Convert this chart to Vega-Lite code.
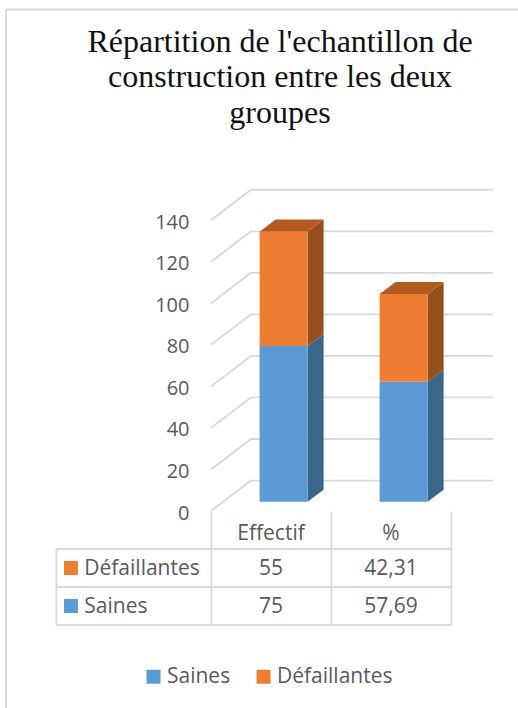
{
  "$schema": "https://vega.github.io/schema/vega-lite/v6.json",
  "autosize": {"type": "none"},
  "padding": {"left": 211, "top": 189, "right": 25, "bottom": 197},
  "width": 282,
  "height": 322,
  "background": "white",
  "title": {
    "text": ["Répartition de l'echantillon de", "construction entre les deux", "groupes"],
    "font": "Liberation Serif",
    "fontSize": 32,
    "fontWeight": "normal",
    "color": "#111111",
    "lineHeight": 35.5,
    "anchor": "middle",
    "frame": "group",
    "dx": -72,
    "offset": -121
  },
  "datasets": {
    "repartition": [
      {"colonne": "Effectif", "serie": "Saines", "valeur": 75},
      {"colonne": "Effectif", "serie": "Défaillantes", "valeur": 55},
      {"colonne": "%", "serie": "Saines", "valeur": 57.69},
      {"colonne": "%", "serie": "Défaillantes", "valeur": 42.31}
    ],
    "graduations": [
      {"valeur": 0}, {"valeur": 20}, {"valeur": 40}, {"valeur": 60},
      {"valeur": 80}, {"valeur": 100}, {"valeur": 120}, {"valeur": 140}
    ],
    "bordures": [{"ligne": "haut"}, {"ligne": "milieu"}, {"ligne": "bas"}]
  },
  "layer": [
    {
      "layer": [
        {
          "mark": {"type": "rule", "color": "#d9d9d9", "strokeWidth": 1.8},
          "data": {"values": [{}]},
          "encoding": {
            "x": {"datum": -1.708, "type": "quantitative",
              "scale": {"domain": [0, 2.35], "nice": false, "zero": false},
              "axis": {"values": [0, 1, 2], "tickSize": 114, "tickColor": "#d9d9d9", "tickWidth": 1.8, "labels": false, "domain": false, "grid": false, "title": null}},
            "y": {"datum": -95, "type": "quantitative",
              "scale": {"domain": [0, 155], "nice": false, "zero": false},
              "axis": {"values": [0, 20, 40, 60, 80, 100, 120, 140], "ticks": false, "domain": false, "grid": false, "title": null, "labelPadding": 22, "labelFont": "Open Sans", "labelFontSize": 20, "labelColor": "#595959", "labelOffset": 2}},
            "y2": {"datum": 241.4}
          }
        },
        {
          "mark": {"type": "rule", "color": "#d9d9d9", "strokeWidth": 1.8},
          "data": {"values": [{}]},
          "encoding": {
            "x": {"datum": -1.708, "type": "quantitative"},
            "x2": {"datum": 2.558},
            "y": {"datum": 241.4, "type": "quantitative"}
          }
        },
        {
          "data": {"name": "graduations"},
          "transform": [{"calculate": "datum.valeur + 14.65", "as": "fond"}],
          "layer": [
            {
              "mark": {"type": "rule", "color": "#d9d9d9", "strokeWidth": 1.8},
              "encoding": {
                "x": {"datum": 0, "type": "quantitative"},
                "x2": {"datum": 0.3333},
                "y": {"field": "valeur", "type": "quantitative"},
                "y2": {"field": "fond"}
              }
            },
            {
              "mark": {"type": "rule", "color": "#d9d9d9", "strokeWidth": 1.8},
              "encoding": {
                "x": {"datum": 0.3333, "type": "quantitative"},
                "x2": {"datum": 2.35},
                "y": {"field": "fond", "type": "quantitative"}
              }
            }
          ]
        },
        {
          "data": {"name": "repartition"},
          "transform": [
            {"stack": "valeur", "groupby": ["colonne"], "sort": [{"field": "serie", "order": "descending"}], "as": ["v0", "v1"]},
            {"calculate": "indexof(['Effectif', '%'], datum.colonne)", "as": "rang"},
            {"calculate": "datum.rang + 0.405", "as": "gauche"},
            {"calculate": "datum.rang + 0.805", "as": "droite"},
            {"calculate": "datum.v0 + 4.48", "as": "bas"},
            {"calculate": "datum.v1 + 4.48", "as": "haut"},
            {"calculate": "[0, 1]", "as": "profondeur"},
            {"flatten": ["profondeur"]},
            {"calculate": "datum.droite + datum.profondeur * 0.1333", "as": "xFlanc"},
            {"calculate": "datum.gauche + datum.profondeur * 0.1333", "as": "xDessus"},
            {"calculate": "datum.haut + datum.profondeur * 5.78", "as": "yHaut"},
            {"calculate": "datum.bas + datum.profondeur * 5.78", "as": "yBas"}
          ],
          "layer": [
            {
              "transform": [{"filter": "datum.serie === 'Saines'"}],
              "mark": {"type": "area", "orient": "vertical", "color": "#3a6689", "opacity": 1},
              "encoding": {
                "x": {"field": "xFlanc", "type": "quantitative"},
                "y": {"field": "yHaut", "type": "quantitative"},
                "y2": {"field": "yBas"},
                "detail": {"field": "colonne"}
              }
            },
            {
              "transform": [{"filter": "datum.serie === 'Défaillantes'"}],
              "mark": {"type": "area", "orient": "vertical", "color": "#96501d", "opacity": 1},
              "encoding": {
                "x": {"field": "xFlanc", "type": "quantitative"},
                "y": {"field": "yHaut", "type": "quantitative"},
                "y2": {"field": "yBas"},
                "detail": {"field": "colonne"}
              }
            },
            {
              "transform": [{"filter": "datum.serie === 'Défaillantes'"}],
              "mark": {"type": "area", "orient": "horizontal", "color": "#b25a20", "opacity": 1},
              "encoding": {
                "y": {"field": "yHaut", "type": "quantitative"},
                "x": {"field": "xDessus", "type": "quantitative"},
                "x2": {"field": "xFlanc"},
                "detail": {"field": "colonne"}
              }
            },
            {
              "transform": [{"filter": "datum.profondeur === 0"}],
              "mark": {"type": "rect"},
              "encoding": {
                "x": {"field": "gauche", "type": "quantitative"},
                "x2": {"field": "droite"},
                "y": {"field": "bas", "type": "quantitative"},
                "y2": {"field": "haut"},
                "color": {
                  "field": "serie", "type": "nominal",
                  "scale": {"domain": ["Saines", "Défaillantes"], "range": ["#5b9bd5", "#ed7d31"]},
                  "legend": {
                    "orient": "none", "legendX": -68, "legendY": 477, "direction": "horizontal",
                    "columns": 2, "title": null, "symbolType": "square", "symbolSize": 196,
                    "symbolStrokeWidth": 0, "labelFont": "Open Sans", "labelFontSize": 21,
                    "labelColor": "#595959", "labelOffset": 3, "columnPadding": 22
                  }
                }
              }
            }
          ]
        }
      ]
    },
    {
      "layer": [
        {
          "data": {"name": "bordures"},
          "mark": {"type": "rule", "color": "#d9d9d9", "strokeWidth": 1.8},
          "encoding": {
            "x": {"datum": -1.289, "type": "quantitative"},
            "x2": {"datum": 2},
            "y": {"field": "ligne", "type": "nominal",
              "scale": {"type": "point", "padding": 0, "domain": ["entête", "haut", "Défaillantes", "milieu", "Saines", "bas"], "range": [341, 436]},
              "axis": null}
          }
        },
        {
          "data": {"values": [{}]},
          "mark": {"type": "rule", "color": "#d9d9d9", "strokeWidth": 1.8},
          "encoding": {
            "x": {"datum": -1.289, "type": "quantitative"},
            "y": {"datum": "haut", "type": "nominal"},
            "y2": {"datum": "bas"}
          }
        },
        {
          "data": {"name": "repartition"},
          "transform": [
            {"calculate": "indexof(['Effectif', '%'], datum.colonne) + 0.5", "as": "centre"},
            {"calculate": "replace(toString(datum.valeur), '.', ',')", "as": "etiquette"}
          ],
          "layer": [
            {
              "transform": [{"filter": "datum.serie === 'Saines'"}],
              "mark": {"type": "text", "font": "Open Sans", "fontSize": 21, "color": "#595959", "dy": 4},
              "encoding": {
                "x": {"field": "centre", "type": "quantitative"},
                "y": {"datum": "entête", "type": "nominal"},
                "text": {"field": "colonne"}
              }
            },
            {
              "mark": {"type": "text", "font": "Open Sans", "fontSize": 21, "color": "#595959", "dy": 1},
              "encoding": {
                "x": {"field": "centre", "type": "quantitative"},
                "y": {"field": "serie", "type": "nominal"},
                "text": {"field": "etiquette"}
              }
            },
            {
              "transform": [{"filter": "datum.colonne === 'Effectif'"}],
              "layer": [
                {
                  "mark": {"type": "text", "font": "Open Sans", "fontSize": 21, "color": "#595959", "align": "left", "dy": 1},
                  "encoding": {
                    "x": {"datum": -1.056, "type": "quantitative"},
                    "y": {"field": "serie", "type": "nominal"},
                    "text": {"field": "serie"}
                  }
                },
                {
                  "mark": {"type": "point", "shape": "square", "filled": true, "size": 196, "opacity": 1},
                  "encoding": {
                    "x": {"datum": -1.167, "type": "quantitative"},
                    "y": {"field": "serie", "type": "nominal"},
                    "color": {"field": "serie", "type": "nominal"}
                  }
                }
              ]
            }
          ]
        }
      ]
    }
  ],
  "resolve": {"scale": {"y": "independent"}},
  "config": {"view": {"stroke": null}}
}
